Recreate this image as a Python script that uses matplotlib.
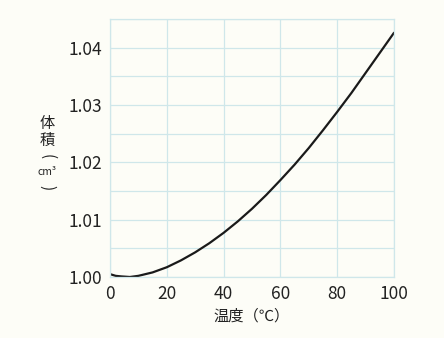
import matplotlib
matplotlib.use('Agg')
import matplotlib.pyplot as plt
import numpy as np

plt.rcParams['font.family'] = ['Noto Sans CJK JP', 'DejaVu Sans']

# 水の体積と温度
temp = [0, 2, 4, 7, 10, 15, 20, 25, 30, 35, 40, 45, 50, 55, 60, 65, 70,
        75, 80, 85, 90, 95, 100]
volume = [1.0005, 1.0002, 1.0001, 1.0000, 1.0002, 1.0008, 1.0017, 1.0029,
          1.0043, 1.0059, 1.0077, 1.0097, 1.0119, 1.0143, 1.0169, 1.0196,
          1.0225, 1.0256, 1.0288, 1.0321, 1.0356, 1.0391, 1.0426]
xticks = [0, 20, 40, 60, 80, 100]
yticks = [1.00, 1.01, 1.02, 1.03, 1.04]
ytick_labels = ['1.00', '1.01', '1.02', '1.03', '1.04']

bg = '#fdfdf7'
grid_c = '#cfe7ea'
ink = '#222222'

fig = plt.figure(figsize=(4.44, 3.38), dpi=100, facecolor=bg)
ax = fig.add_axes([0.2477, 0.1805, 0.6397, 0.7633], facecolor=bg)

ax.plot(temp, volume, color='#1a1a1a', lw=1.6, solid_capstyle='round')

ax.set_xlim(0, 100)
ax.set_ylim(1.0, 1.045)
ax.set_xticks(xticks)
ax.set_yticks(yticks)
ax.set_yticklabels(ytick_labels)
ax.set_yticks(np.arange(1.005, 1.045, 0.01), minor=True)
ax.tick_params(which='both', length=0, labelsize=12.5, colors=ink, pad=6)
ax.grid(which='both', color=grid_c, lw=0.9)
for s in ax.spines.values():
    s.set_color(grid_c)
    s.set_linewidth(0.9)

ax.set_xlabel('温度（℃）', fontsize=11, color=ink, labelpad=3)

# 縦書きの軸ラベル
fig.text(0.106, 0.636, '体', fontsize=11, color=ink, ha='center', va='center')
fig.text(0.106, 0.586, '積', fontsize=11, color=ink, ha='center', va='center')
fig.text(0.106, 0.536, '(', fontsize=11, color=ink, ha='center', va='center', rotation=-90)
fig.text(0.106, 0.491, 'cm³', fontsize=7.5, color=ink, ha='center', va='center')
fig.text(0.106, 0.444, ')', fontsize=11, color=ink, ha='center', va='center', rotation=-90)

fig.savefig('out.png', dpi=100, facecolor=bg)
